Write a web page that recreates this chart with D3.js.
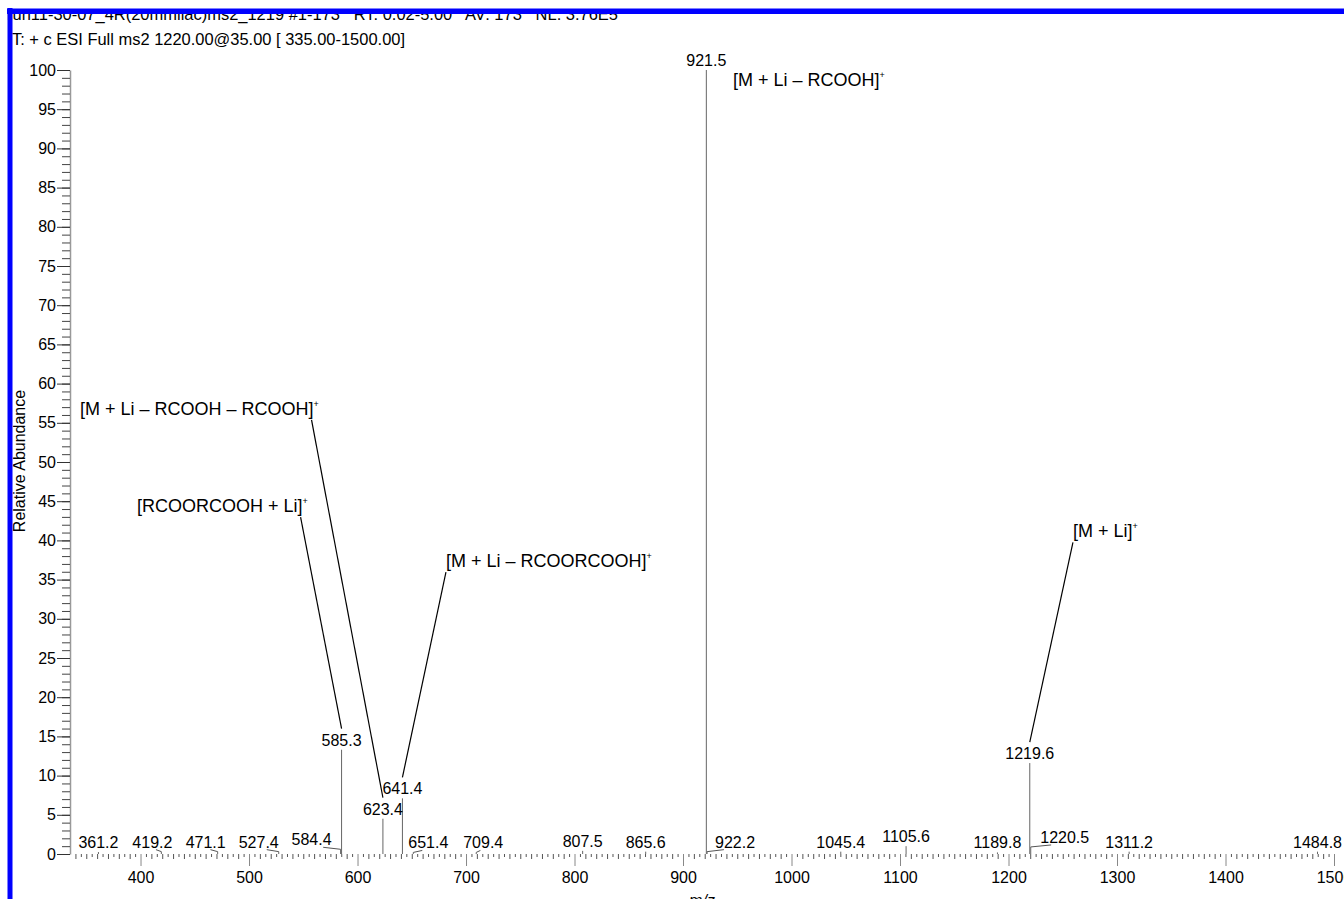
<!DOCTYPE html>
<html>
<head>
<meta charset="utf-8">
<script src="https://cdn.jsdelivr.net/npm/d3@7"></script>
<style>
  body { margin: 0; background: #fff; }
  svg { display: block; font-family: "Liberation Sans", Arial, sans-serif; }
</style>
</head>
<body>
<div id="chart"></div>
<script>
const WIDTH = 1344;
const HEIGHT = 899;

// header lines
const HEADER_1 = "run11-30-07_4R(20mmliac)ms2_1219 #1-173   RT: 0.02-5.00   AV: 173   NL: 3.76E5";
const HEADER_2 = "T: + c ESI Full ms2 1220.00@35.00 [ 335.00-1500.00]";

// peaks (m/z, relative abundance)
const peakMz = [361.2, 419.2, 471.1, 527.4, 584.4, 585.3, 623.4, 641.4, 651.4, 709.4, 807.5,
  865.6, 921.5, 922.2, 1045.4, 1105.6, 1189.8, 1219.6, 1220.5, 1311.2, 1484.8];
const peakInt = [0.25, 0.3, 0.3, 0.3, 0.6, 13.3, 4.5, 7.1, 0.2, 0.2, 0.4,
  0.3, 100, 0.3, 0.3, 1.0, 0.2, 11.6, 0.9, 0.3, 0.3];

// annotations
const annoText = ["[M + Li – RCOOH – RCOOH]", "[RCOORCOOH + Li]", "[M + Li – RCOORCOOH]", "[M + Li – RCOOH]", "[M + Li]"];
const annoPeak = [623.4, 585.3, 641.4, null, 1219.6];
const annoMz = [344.2, 396.8, 681.5, 946.1, 1259.4];
const annoInt = [56.0, 43.6, 36.6, 98.0, 40.4];

const xTicks = d3.range(400, 1501, 100);
const yTicks = d3.range(0, 101, 5);

// label shifts the instrument software applied to crowded peaks (px)
const LABEL_NUDGE = { "419.2": -9, "471.1": -12, "527.4": -20, "584.4": -29,
  "651.4": 15, "709.4": 7, "922.2": 28, "1220.5": 34 };

const svg = d3.select("#chart").append("svg")
  .attr("width", WIDTH)
  .attr("height", HEIGHT);

const x = d3.scaleLinear().domain([335, 1500]).range([70, 1334]);
const y = d3.scaleLinear().domain([0, 100]).range([854, 70]);

// header text (top gets covered by the window frame)
svg.append("text")
  .attr("x", 7).attr("y", 20)
  .attr("textLength", 611).attr("lengthAdjust", "spacingAndGlyphs")
  .style("white-space", "pre")
  .style("font-size", "17px")
  .text(HEADER_1);
svg.append("text")
  .attr("x", 12).attr("y", 45)
  .attr("textLength", 393).attr("lengthAdjust", "spacingAndGlyphs")
  .style("white-space", "pre")
  .style("font-size", "17px")
  .text(HEADER_2);

// y axis: minor then major
svg.append("g")
  .attr("transform", "translate(70,0)")
  .call(d3.axisLeft(y).tickValues(d3.range(0, 101, 1)).tickSize(8).tickSizeOuter(0).tickFormat(""))
  .call(g => g.select(".domain").attr("stroke", "#999").attr("stroke-width", 1.5))
  .call(g => g.selectAll(".tick line").attr("stroke", "#444"));
svg.append("g")
  .attr("transform", "translate(70,0)")
  .call(d3.axisLeft(y).tickValues(yTicks).tickSize(13).tickSizeOuter(0).tickPadding(1))
  .call(g => g.select(".domain").remove())
  .call(g => g.selectAll(".tick line").attr("stroke", "#333"))
  .call(g => g.selectAll("text").style("font-size", "16px").attr("fill", "#000").attr("font-family", null));

// x axis: minor then major
svg.append("g")
  .attr("transform", "translate(0,854)")
  .call(d3.axisBottom(x).tickValues(d3.range(340, 1500, 5).filter(v => v % 100 !== 0))
    .tickSize(3).tickFormat(""))
  .call(g => g.select(".domain").remove())
  .call(g => g.selectAll(".tick line").attr("stroke", "#555")
    .attr("y2", d => d % 10 === 0 ? 5 : 3));
svg.append("g")
  .attr("transform", "translate(0,854)")
  .call(d3.axisBottom(x).tickValues(xTicks).tickSize(12).tickPadding(6).tickFormat(d3.format("d")))
  .call(g => g.select(".domain").remove())
  .call(g => g.selectAll(".tick line").attr("stroke", "#888"))
  .call(g => g.selectAll("text").style("font-size", "16px").attr("fill", "#000").attr("font-family", null));

// axis titles
svg.append("text")
  .attr("transform", "translate(25,461) rotate(-90)")
  .style("text-anchor", "middle")
  .style("font-size", "16px")
  .text("Relative Abundance");
svg.append("text")
  .attr("x", 702).attr("y", 906)
  .style("text-anchor", "middle")
  .style("font-size", "16px")
  .style("font-style", "italic")
  .text("m/z");

const peaks = peakMz.map((m, i) => ({ mz: m, int: peakInt[i], nudge: LABEL_NUDGE[m.toFixed(1)] || 0 }));

// sticks
svg.append("g")
  .selectAll("line")
  .data(peaks)
  .enter()
  .append("line")
  .attr("x1", d => x(d.mz)).attr("x2", d => x(d.mz))
  .attr("y1", y(0)).attr("y2", d => y(d.int))
  .attr("stroke", "#666")
  .attr("stroke-width", 1);

// small leaders for shifted labels
svg.append("g")
  .selectAll("line")
  .data(peaks.filter(d => d.nudge !== 0))
  .enter()
  .append("line")
  .attr("x1", d => x(d.mz)).attr("y1", d => y(d.int))
  .attr("x2", d => x(d.mz) + d.nudge * 0.6).attr("y2", d => y(d.int) - 2)
  .attr("stroke", "#555")
  .attr("stroke-width", 1);

// peak labels
svg.append("g")
  .selectAll("text")
  .data(peaks)
  .enter()
  .append("text")
  .attr("x", d => x(d.mz) + d.nudge)
  .attr("y", d => y(d.int) - 4)
  .style("text-anchor", "middle")
  .style("font-size", "16px")
  .text(d => d.mz.toFixed(1));

// annotations
annoText.forEach((t, i) => {
  const tx = x(annoMz[i]);
  const ty = y(annoInt[i]);
  const txt = svg.append("text")
    .attr("x", tx).attr("y", ty)
    .style("font-size", "18px")
    .text(t);
  const w = txt.node().getComputedTextLength();
  txt.append("tspan")
    .attr("dy", -8)
    .style("font-size", "9px")
    .text("+");
  if (annoPeak[i] !== null) {
    const pi = peakMz.indexOf(annoPeak[i]);
    const px = x(peakMz[pi]);
    const labelBase = y(peakInt[pi]) - 4;
    const sx = px > tx + w / 2 ? tx + w - 2 : tx;
    svg.append("line")
      .attr("x1", sx).attr("y1", ty + 5)
      .attr("x2", px).attr("y2", labelBase - 17)
      .attr("stroke", "#000")
      .attr("stroke-width", 1.2);
  }
});

// window frame (blue), drawn last
svg.append("rect").attr("x", 7).attr("y", 8).attr("width", WIDTH).attr("height", 1).attr("fill", "#8080ff");
svg.append("rect").attr("x", 7).attr("y", 9).attr("width", WIDTH).attr("height", 5).attr("fill", "#0000ff");
svg.append("rect").attr("x", 7.5).attr("y", 8).attr("width", 5).attr("height", HEIGHT).attr("fill", "#0000ff");
</script>
</body>
</html>
